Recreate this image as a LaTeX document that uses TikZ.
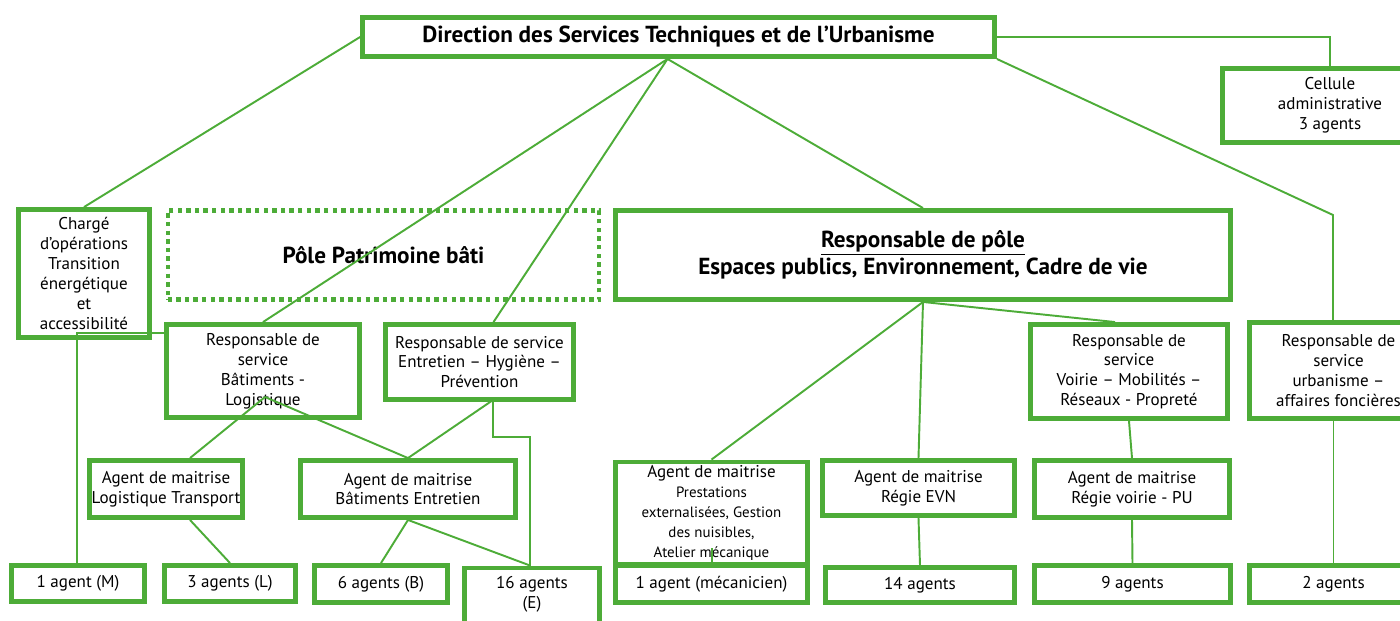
\documentclass[tikz,border=0pt]{standalone}
\usepackage{fontspec}
\setmainfont{PT Sans}
\usetikzlibrary{calc}
\definecolor{orggreen}{RGB}{77,172,56}

\begin{document}
\begin{tikzpicture}[x=0.02cm,y=-0.02cm,
  box/.style={draw=orggreen,line width=2.8pt,fill=white,align=center,inner sep=1pt,
    font=\fontsize{9.7}{11.3}\selectfont},
  boldbox/.style={box,font=\fontsize{13.2}{15.3}\selectfont\bfseries},
  dotbox/.style={boldbox,line width=2.3pt,dash pattern=on 2.5pt off 2.4pt},
  link/.style={draw=orggreen,line width=1.1pt}]
\useasboundingbox (0,0) rectangle (1400,620);
\clip (0,0) rectangle (1400,620);

% Direction
\node[boldbox,minimum width=12.64cm,minimum height=0.78cm] (dir) at (678.5,37) {Direction des Services Techniques et de l’Urbanisme};
\node[box,minimum width=4.3cm,minimum height=1.48cm] (cell) at (1330,105.5) {Cellule\\administrative\\3 agents};

% Poles
\node[box,minimum width=2.62cm,minimum height=2.56cm] (charge) at (84,273.5) {Chargé\\d’opérations\\Transition\\énergétique\\et\\accessibilité};
\node[dotbox,minimum width=8.64cm,minimum height=1.78cm] (pat) at (383.5,255) {Pôle Patrimoine bâti};
\node[boldbox,minimum width=12.3cm,minimum height=1.78cm] (pole) at (923,255) {\underline{Responsable de pôle}\\Espaces publics, Environnement, Cadre de vie};

% Responsables de service
\node[box,minimum width=3.86cm,minimum height=1.86cm] (rsbat) at (263,371) {Responsable de\\service\\Bâtiments -\\Logistique};
\node[box,minimum width=3.76cm,minimum height=1.5cm] (rsent) at (479.5,362) {Responsable de service\\Entretien -- Hygiène --\\Prévention};
\node[box,minimum width=3.94cm,minimum height=1.88cm] (rsvoi) at (1129,371.5) {Responsable de\\service\\Voirie -- Mobilités --\\Réseaux - Propreté};
\node[box,minimum width=3.56cm,minimum height=1.92cm] (rsurb) at (1338.5,370.5) {Responsable de\\service\\urbanisme --\\affaires foncières};

% Agents de maitrise
\node[box,minimum width=3.06cm,minimum height=1.14cm] (amlog) at (166,489) {Agent de maitrise\\Logistique Transport};
\node[box,minimum width=4.3cm,minimum height=1.14cm] (amba) at (408,489) {Agent de maitrise\\Bâtiments Entretien};
\node[box,minimum width=3.84cm,minimum height=2.04cm] (ampre) at (711.5,513) {Agent de maitrise\\{\fontsize{8.5}{9.8}\selectfont Prestations}\\{\fontsize{8.5}{9.8}\selectfont externalisées, Gestion}\\{\fontsize{8.5}{9.8}\selectfont des nuisibles,}\\{\fontsize{8.5}{9.8}\selectfont Atelier mécanique}};
\node[box,minimum width=3.84cm,minimum height=1.1cm] (amevn) at (918.5,488) {Agent de maitrise\\Régie EVN};
\node[box,minimum width=3.9cm,minimum height=1.14cm] (amvoi) at (1132,489) {Agent de maitrise\\Régie voirie - PU};

% Agents
\node[box,minimum width=2.66cm,minimum height=0.72cm] (agM) at (78,583.5) {1 agent (M)};
\node[box,minimum width=2.62cm,minimum height=0.72cm] (agL) at (230,583.5) {3 agents (L)};
\node[box,minimum width=2.66cm,minimum height=0.74cm] (agB) at (381,584) {6 agents (B)};
\node[box,minimum width=2.7cm,anchor=north,inner ysep=5pt,text depth=0.8cm] (agE) at (532,565.5) {16 agents\\(E)};
\node[box,minimum width=3.84cm,minimum height=0.74cm] (mec) at (711.5,584) {1 agent (mécanicien)};
\node[box,minimum width=3.78cm,minimum height=0.7cm] (ag14) at (920,585) {14 agents};
\node[box,minimum width=3.92cm,minimum height=0.74cm] (ag9) at (1132.5,584) {9 agents};
\node[box,minimum width=3.36cm,minimum height=0.74cm] (ag2) at (1333.5,584) {2 agents};

% Links from the direction
\coordinate (dirhub) at ($(dir.south)+(-11,0)$);
\coordinate (urbbend) at (1333,215);
\draw[link] (dir.west) -- (charge.north);
\draw[link] (dirhub) -- (rsbat.north);
\draw[link] (dirhub) -- ($(rsent.north)+(14,0)$);
\draw[link] (dirhub) -- (pole.north);
\draw[link] (dir.east) -| (cell.north);
\draw[link] (dir.south east) -- (urbbend) -- (urbbend |- rsurb.north);
\draw[link] (rsurb.south -| ag2.north) -- (ag2.north);

% Links of the pole
\draw[link] (pole.south) -- (ampre.north);
\draw[link] (pole.south) -- (amevn.north);
\draw[link] (pole.south) -- ($(rsvoi.north)+(-14,0)$);
\draw[link] (rsvoi.south) -- (amvoi.north);
\draw[link] (amevn.south) -- (ag14.north);
\draw[link] (amvoi.south) -- (ag9.north);
\coordinate (prestub) at (712,548);
\draw[link] (prestub) -- (mec.north -| prestub);

% Links of the patrimoine
\coordinate (mbend) at (77,333);
\coordinate (bathub) at (265,397);
\coordinate (enthub) at (493,400);
\coordinate (ebend) at (530,437);
\draw[link] (rsbat.west |- mbend) -- (mbend) -- (mbend |- agM.north);
\draw[link] (bathub) -- ($(amlog.north)+(24,0)$);
\draw[link] (bathub) -- (amba.north);
\draw[link] (enthub) -- (amba.north);
\draw[link] (enthub) |- (ebend) -- (ebend |- agE.north);
\draw[link] ($(amlog.south)+(24,0)$) -- (agL.north);
\draw[link] (amba.south) -- (agB.north);
\draw[link] (amba.south) -- (ebend |- agE.north);
\end{tikzpicture}
\end{document}
